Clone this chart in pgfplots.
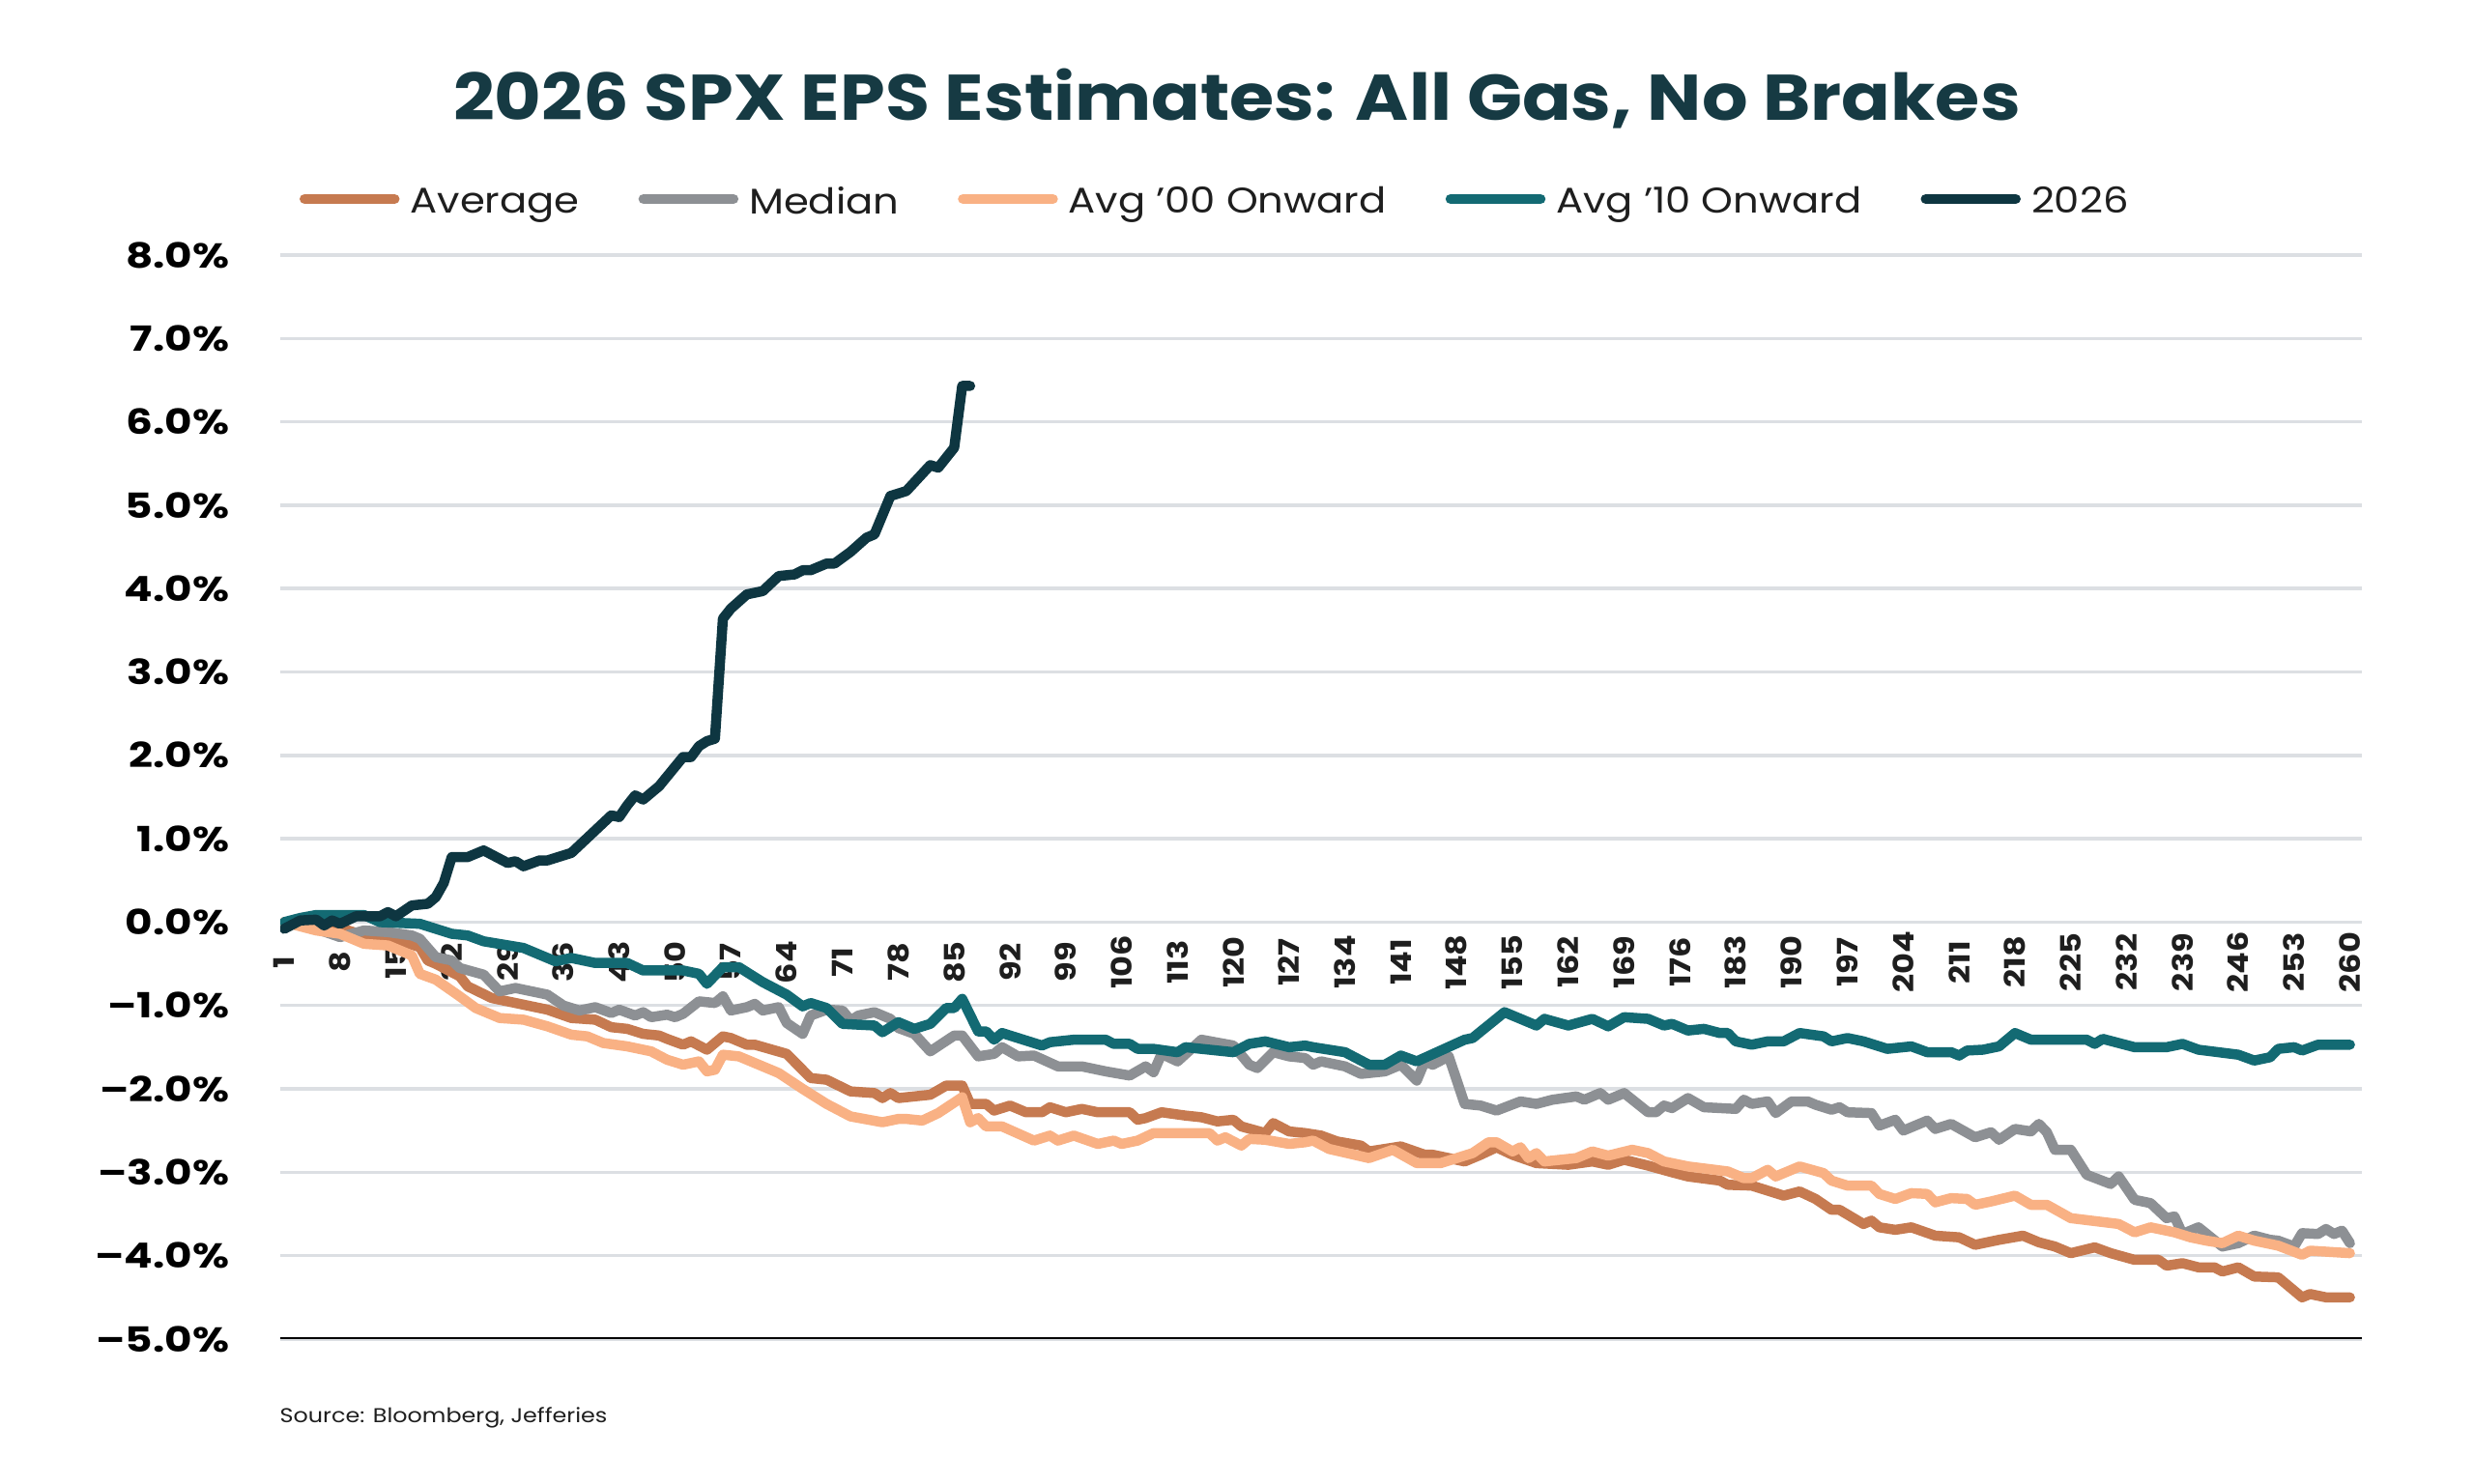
\documentclass[border=0pt]{standalone}
\usepackage{fontspec}
\usepackage{pgfplots}
\pgfplotsset{compat=1.18}
\setmainfont{Poppins}
\newfontfamily\widefont{Poppins}[FakeStretch=1.15]
\newfontfamily\tickfont{Poppins}[FakeStretch=1.22]
\newfontfamily\titlefont{Poppins}[FakeStretch=1.12]
\newfontfamily\legfont{Poppins}[FakeStretch=1.13]

\definecolor{cAvg}{HTML}{C67A50}
\definecolor{cMed}{HTML}{8D9094}
\definecolor{cOO}{HTML}{F9B184}
\definecolor{cTen}{HTML}{136A73}
\definecolor{cNow}{HTML}{0E3641}
\definecolor{cTitle}{HTML}{163A43}
\definecolor{cGrid}{HTML}{DCDFE3}
\definecolor{cText}{HTML}{1E1E1E}

\begin{document}
\begin{tikzpicture}
\path[use as bounding box] (0,0) rectangle (256mm,153.6mm);

\node[anchor=base, text=cTitle, inner sep=0pt,
      font=\titlefont\bfseries\fontsize{19}{22}\selectfont]
  at (128mm,141.1mm) {2026 SPX EPS Estimates: All Gas, No Brakes};

\node[anchor=base west, text=cText, inner sep=0pt,
      font=\widefont\fontsize{5.9}{7}\selectfont]
  at (28.9mm,6.3mm) {Source: Bloomberg, Jefferies};

\begin{axis}[
  at={(29mm,15mm)}, anchor=south west,
  scale only axis, width=215.4mm, height=112.2mm,
  xmin=0.5, xmax=261.5, ymin=-5, ymax=8,
  axis line style={draw=none},
  major tick length=0pt,
  ytick={-5,-4,...,8},
  yticklabels={–5.0\%,–4.0\%,–3.0\%,–2.0\%,–1.0\%,0.0\%,1.0\%,2.0\%,3.0\%,4.0\%,5.0\%,6.0\%,7.0\%,8.0\%},
  ymajorgrids,
  grid style={cGrid, line width=0.35mm},
  xtick={1,8,...,260},
  xticklabels={1,8,15,22,29,36,43,50,57,64,71,78,85,92,99,106,113,120,127,134,141,148,155,162,169,176,183,190,197,204,211,218,225,232,239,246,253,260},
  xticklabel style={yshift=39mm, rotate=90, anchor=center, inner sep=0pt,
    text=cText, font=\widefont\bfseries\fontsize{8.3}{9}\selectfont},
  yticklabel style={anchor=east, inner sep=0pt, xshift=-5.2mm,
    text=black, font=\tickfont\bfseries\fontsize{10.2}{11}\selectfont},
  every axis plot/.append style={line width=1.05mm, line join=round, line cap=round},
  legend columns=5,
  legend cell align=left,
  legend image code/.code={\draw[#1] (0mm,0.4mm) -- (9.3mm,0.4mm);},
  legend style={at={(axis description cs:0,1)}, anchor=west,
    xshift=2.0mm, yshift=5.4mm,
    draw=none, fill=none, inner sep=0pt, outer sep=0pt,
    text=cText, font=\legfont\fontsize{10.5}{12}\selectfont,
    nodes={inner sep=0pt},
    /tikz/every odd column/.append style={column sep=1.1mm},
    /tikz/every even column/.append style={column sep=6.1mm}},
]

% Average of all years
\addplot[cAvg] coordinates {
(1,0) (4,-0.06) (6,-0.08) (9,-0.1) (11,-0.16) (13,-0.18) (16,-0.24) (18,-0.3)
(19,-0.46) (20,-0.5) (23,-0.65) (24,-0.77) (27,-0.91) (30,-0.97) (34,-1.05)
(37,-1.15) (40,-1.17) (42,-1.26) (44,-1.28) (46,-1.34) (48,-1.36) (49,-1.40)
(51,-1.47) (52,-1.43) (54,-1.53) (56,-1.37) (57,-1.39) (59,-1.47) (60,-1.47)
(64,-1.58) (67,-1.87) (69,-1.89) (72,-2.03) (75,-2.05) (76,-2.11) (77,-2.05)
(78,-2.11) (82,-2.07) (84,-1.96) (86,-1.96) (87,-2.18) (89,-2.18) (90,-2.26)
(92,-2.2) (94,-2.28) (96,-2.28) (97,-2.22) (99,-2.28) (101,-2.24) (103,-2.28)
(107,-2.28) (108,-2.37) (109,-2.35) (111,-2.28) (114,-2.32) (116,-2.34)
(118,-2.39) (120,-2.37) (121,-2.45) (124,-2.53) (125,-2.41) (127,-2.51)
(129,-2.53) (131,-2.56) (133,-2.63) (136,-2.68) (137,-2.75) (141,-2.69)
(144,-2.79) (145,-2.79) (149,-2.87) (151,-2.79) (153,-2.70) (155,-2.79)
(158,-2.89) (162,-2.91) (165,-2.87) (167,-2.91) (169,-2.85) (172,-2.92)
(175,-3.0) (177,-3.05) (181,-3.10) (182,-3.15) (185,-3.16) (189,-3.28)
(191,-3.23) (193,-3.32) (195,-3.45) (196,-3.45) (199,-3.62) (200,-3.58)
(201,-3.66) (203,-3.69) (205,-3.66) (208,-3.76) (211,-3.78) (213,-3.87)
(216,-3.81) (219,-3.76) (221,-3.84) (223,-3.89) (225,-3.97) (228,-3.90)
(230,-3.97) (233,-4.05) (236,-4.05) (237,-4.12) (239,-4.09) (241,-4.14)
(243,-4.14) (244,-4.19) (246,-4.14) (248,-4.25) (251,-4.26) (254,-4.50)
(255,-4.46) (257,-4.50) (260,-4.50)
};
\addlegendentry{Average}

% Median of all years
\addplot[cMed] coordinates {
(1,0) (5,-0.08) (8,-0.18) (11,-0.1) (14,-0.12) (17,-0.16) (18,-0.2) (20,-0.42)
(22,-0.46) (23,-0.55) (26,-0.63) (28,-0.83) (30,-0.79) (34,-0.87) (36,-1.0)
(38,-1.06) (40,-1.02) (42,-1.09) (43,-1.05) (45,-1.12) (46,-1.08) (47,-1.14)
(49,-1.11) (50,-1.14) (51,-1.10) (53,-0.95) (55,-0.97) (56,-0.89) (57,-1.06)
(59,-1.02) (60,-0.98) (61,-1.06) (63,-1.02) (64,-1.21) (66,-1.34) (67,-1.12)
(69,-1.05) (71,-1.06) (72,-1.18) (73,-1.12) (75,-1.08) (77,-1.16) (78,-1.27)
(80,-1.34) (82,-1.55) (85,-1.36) (86,-1.36) (88,-1.61) (90,-1.58) (91,-1.5)
(93,-1.61) (95,-1.6) (98,-1.73) (101,-1.73) (104,-1.79) (107,-1.84)
(109,-1.73) (110,-1.80) (111,-1.58) (113,-1.67) (116,-1.41) (120,-1.48)
(122,-1.71) (123,-1.75) (125,-1.56) (127,-1.61) (129,-1.63) (130,-1.71)
(131,-1.67) (134,-1.73) (136,-1.82) (139,-1.79) (141,-1.71) (143,-1.9)
(144,-1.67) (145,-1.71) (147,-1.61) (149,-2.18) (151,-2.2) (153,-2.26)
(156,-2.15) (158,-2.18) (160,-2.13) (163,-2.09) (164,-2.13) (166,-2.05)
(167,-2.13) (169,-2.05) (172,-2.28) (173,-2.28) (174,-2.2) (175,-2.23)
(177,-2.11) (179,-2.22) (183,-2.24) (184,-2.13) (185,-2.18) (187,-2.15)
(188,-2.29) (190,-2.15) (192,-2.15) (193,-2.19) (195,-2.25) (196,-2.22)
(197,-2.28) (200,-2.29) (201,-2.44) (203,-2.37) (204,-2.5) (207,-2.38)
(208,-2.48) (210,-2.42) (213,-2.58) (215,-2.52) (216,-2.61) (218,-2.48)
(220,-2.51) (221,-2.42) (222,-2.52) (223,-2.73) (225,-2.73) (227,-3.03)
(230,-3.14) (231,-3.05) (233,-3.33) (235,-3.37) (237,-3.55) (238,-3.53)
(239,-3.74) (241,-3.66) (244,-3.89) (246,-3.85) (248,-3.76) (250,-3.81)
(251,-3.82) (253,-3.89) (254,-3.73) (256,-3.74) (257,-3.68) (258,-3.74)
(259,-3.70) (260,-3.85)
};
\addlegendentry{Median}

% Average since 2000
\addplot[cOO] coordinates {
(1,0) (5,-0.1) (8,-0.14) (11,-0.26) (14,-0.28) (17,-0.40) (18,-0.62)
(20,-0.69) (23,-0.89) (25,-1.03) (28,-1.15) (31,-1.17) (34,-1.25) (37,-1.35)
(39,-1.37) (41,-1.45) (44,-1.49) (47,-1.55) (49,-1.65) (51,-1.71) (53,-1.67)
(54,-1.79) (55,-1.77) (56,-1.59) (58,-1.61) (60,-1.69) (63,-1.81) (66,-2.0)
(69,-2.18) (72,-2.33) (76,-2.40) (78,-2.36) (79,-2.36) (81,-2.38) (83,-2.29)
(86,-2.1) (87,-2.4) (88,-2.35) (89,-2.45) (91,-2.45) (95,-2.62) (97,-2.56)
(98,-2.62) (100,-2.56) (103,-2.66) (105,-2.62) (106,-2.66) (108,-2.62)
(110,-2.53) (117,-2.53) (118,-2.62) (119,-2.58) (121,-2.68) (122,-2.6)
(124,-2.61) (127,-2.66) (129,-2.64) (130,-2.62) (132,-2.72) (137,-2.83)
(140,-2.73) (143,-2.89) (146,-2.89) (148,-2.83) (150,-2.77) (152,-2.64)
(153,-2.64) (155,-2.75) (156,-2.70) (157,-2.83) (158,-2.77) (159,-2.87)
(163,-2.83) (165,-2.75) (167,-2.8) (170,-2.73) (172,-2.77) (174,-2.87)
(175,-2.89) (177,-2.93) (182,-2.99) (184,-3.07) (185,-3.07) (187,-2.97)
(188,-3.05) (191,-2.93) (194,-3.01) (195,-3.10) (197,-3.16) (200,-3.16)
(201,-3.26) (203,-3.32) (205,-3.25) (207,-3.26) (208,-3.36) (210,-3.31)
(212,-3.32) (213,-3.39) (215,-3.35) (218,-3.28) (220,-3.39) (222,-3.39)
(225,-3.55) (231,-3.62) (233,-3.72) (235,-3.66) (238,-3.72) (240,-3.78)
(242,-3.82) (244,-3.85) (246,-3.76) (248,-3.82) (251,-3.88) (254,-3.99)
(255,-3.94) (260,-3.97)
};
\addlegendentry{Avg ’00 Onward}

% Average since 2010
\addplot[cTen] coordinates {
(1,0.0) (3,0.05) (5,0.085) (11,0.085) (13,0.0) (18,-0.02) (22,-0.14)
(24,-0.16) (26,-0.23) (31,-0.31) (35,-0.47) (37,-0.43) (40,-0.49) (44,-0.49)
(46,-0.58) (51,-0.58) (53,-0.62) (54,-0.74) (56,-0.54) (58,-0.54) (61,-0.72)
(64,-0.87) (66,-1.01) (67,-0.97) (69,-1.03) (71,-1.22) (75,-1.24) (76,-1.32)
(78,-1.2) (80,-1.28) (82,-1.22) (84,-1.03) (85,-1.03) (86,-0.92) (88,-1.31)
(89,-1.31) (90,-1.41) (91,-1.33) (96,-1.48) (97,-1.44) (100,-1.41)
(104,-1.41) (105,-1.46) (107,-1.46) (108,-1.52) (110,-1.52) (113,-1.56)
(114,-1.5) (120,-1.56) (122,-1.46) (124,-1.43) (127,-1.5) (129,-1.48)
(130,-1.5) (134,-1.56) (137,-1.71) (139,-1.71) (141,-1.6) (143,-1.67)
(146,-1.54) (149,-1.41) (150,-1.39) (154,-1.08) (156,-1.16) (158,-1.24)
(159,-1.16) (162,-1.24) (165,-1.16) (167,-1.25) (169,-1.14) (172,-1.16)
(174,-1.24) (175,-1.22) (177,-1.30) (179,-1.28) (181,-1.33) (182,-1.33)
(183,-1.43) (185,-1.47) (187,-1.43) (189,-1.43) (191,-1.33) (194,-1.37)
(195,-1.43) (197,-1.39) (199,-1.43) (202,-1.52) (205,-1.49) (207,-1.56)
(210,-1.56) (211,-1.6) (212,-1.54) (214,-1.53) (216,-1.49) (218,-1.33)
(220,-1.41) (227,-1.41) (228,-1.46) (229,-1.40) (233,-1.50) (237,-1.50)
(239,-1.46) (241,-1.53) (246,-1.59) (248,-1.66) (250,-1.62) (251,-1.52)
(253,-1.50) (254,-1.54) (256,-1.47) (260,-1.47)
};
\addlegendentry{Avg ’10 Onward}

% Current year
\addplot[cNow] coordinates {
(1,-0.08) (3,0.02) (5,0.03) (6,-0.04) (7,0.02) (8,-0.02) (10,0.07) (13,0.07)
(14,0.12) (15,0.07) (17,0.2) (19,0.22) (20,0.3) (21,0.47) (22,0.78) (24,0.78)
(26,0.86) (29,0.71) (30,0.73) (31,0.67) (33,0.74) (34,0.74) (37,0.83)
(41,1.19) (42,1.28) (43,1.26) (44,1.40) (45,1.52) (46,1.47) (48,1.63)
(51,1.98) (52,1.98) (53,2.11) (54,2.17) (55,2.2) (56,3.64) (57,3.76)
(59,3.93) (61,3.97) (63,4.15) (65,4.17) (66,4.22) (67,4.22) (69,4.30)
(70,4.30) (72,4.44) (74,4.61) (75,4.65) (77,5.11) (79,5.17) (82,5.48)
(83,5.45) (85,5.69) (86,6.43) (87,6.43)
};
\addlegendentry{2026}

\draw[black, line width=0.35mm] (rel axis cs:0,0) -- (rel axis cs:1,0);
\end{axis}
\end{tikzpicture}
\end{document}
